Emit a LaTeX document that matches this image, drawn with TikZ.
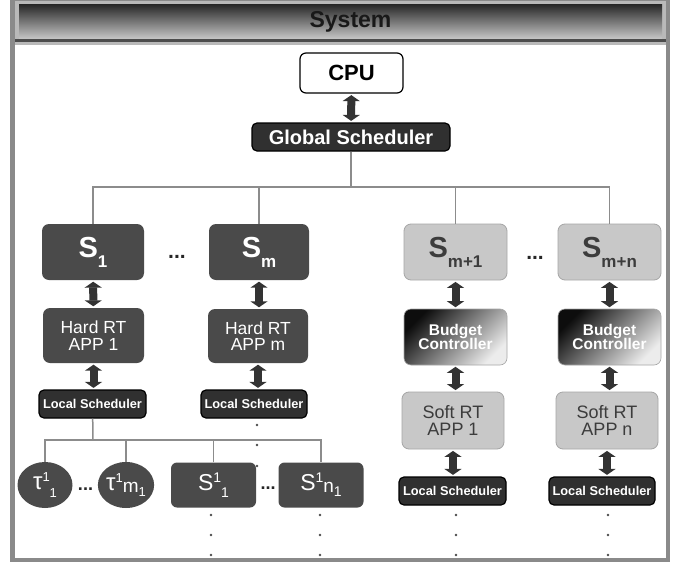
\documentclass[tikz,border=0pt]{standalone}
\usepackage{fontspec}
\setmainfont{Liberation Sans}
\usetikzlibrary{positioning}
\usetikzlibrary{arrows.meta}
\usetikzlibrary{shapes}

\definecolor{darkfill}{HTML}{4A4A4A}
\definecolor{schedfill}{HTML}{303030}
\definecolor{lightfill}{HTML}{C8C8C8}
\definecolor{lightdraw}{HTML}{A6A6A6}
\definecolor{lighttext}{HTML}{3C3C3C}
\definecolor{arrowgray}{HTML}{333333}
\definecolor{linkgray}{HTML}{8C8C8C}
\definecolor{framegray}{HTML}{8A8A8A}

\newcommand{\fs}[1]{\fontsize{#1}{#1}\selectfont}
\newcommand{\Sbig}[1]{{\fs{29}S}\raisebox{-10pt}{\fs{17}#1}}

\begin{document}
\begin{tikzpicture}[
    x=1pt, y=-1pt,
    font=\bfseries
]
\tikzset{
    cpunode/.style = {rectangle, rounded corners=6pt, draw=black, line width=1.2pt, fill=white, minimum width=103pt, minimum height=40pt, inner sep=0pt},
    schednode/.style = {rectangle, rounded corners=5pt, draw=black, line width=1.2pt, fill=schedfill, text=white, minimum height=28pt, inner sep=0pt},
    darknode/.style = {rectangle, rounded corners=7pt, fill=darkfill, text=white, align=center, inner sep=0pt, minimum width=102pt, minimum height=56pt},
    lightnode/.style = {rectangle, rounded corners=7pt, draw=lightdraw, line width=0.8pt, fill=lightfill, text=lighttext, align=center, inner sep=0pt, minimum width=103pt, minimum height=56pt},
    budgetnode/.style = {rectangle, rounded corners=7pt, draw=lightdraw, line width=0.6pt, top color=black!95, middle color=gray!75!black, bottom color=gray!15, shading angle=45, text=white, align=center, inner sep=0pt, minimum width=103pt, minimum height=56pt, font=\bfseries\fs{15.5}},
    tasknode/.style = {ellipse, fill=darkfill, text=white, inner sep=0pt, minimum width=55pt, minimum height=46pt, font=\mdseries},
    subnode/.style = {rectangle, rounded corners=6pt, fill=darkfill, text=white, inner sep=0pt, minimum width=85pt, minimum height=45pt, font=\mdseries},
    dotsnode/.style = {text=black!85, inner sep=0pt, anchor=base},
    dbl/.style = {{Triangle[width=17pt,length=6pt]}-{Triangle[width=17pt,length=6pt]}, line width=8pt, draw=arrowgray, shorten <=1.5pt, shorten >=1.5pt},
    link/.style = {draw=linkgray, line width=1.5pt}
}
\useasboundingbox (0,0) rectangle (681,565);

% frame and title bar
\fill[framegray] (10,0) rectangle (670,562);
\fill[white] (15,45) rectangle (666,558);
\fill[gray!55] (15,1) rectangle (666,45);
\shade[top color=black!85, bottom color=black!22] (19,4) rectangle (662,39);
\fill[black!70] (15,39) rectangle (666,42);
\node[text=black!90] at (350.5,22) (title) {\fs{23}System};

% top
\node[cpunode] at (351.5,73) (cpu) {\fs{22}CPU};
\node[schednode, minimum width=198pt] at (351,137) (gsched) {\fs{20}Global Scheduler};

% servers
\node[darknode] at (93,252) (s1) {\Sbig{1}};
\node[darknode, minimum width=100pt] at (259,252) (sm) {\Sbig{m}};
\node[lightnode] at (455.5,252) (smp1) {\Sbig{m+1}};
\node[lightnode] at (609.5,252) (smpn) {\Sbig{m+n}};
\node[dotsnode] at (177,258) (dots1) {\fs{21}...};
\node[dotsnode] at (535,259) (dots2) {\fs{21}...};

% applications
\node[darknode, font=\mdseries\fs{17.5}, minimum width=101pt, minimum height=55pt] at (93.5,335.5) (hard1) {Hard RT\\[-1pt]APP 1};
\node[darknode, font=\mdseries\fs{17.5}, minimum width=100pt, minimum height=54pt] at (258,336) (hardm) {Hard RT\\[-1pt]APP m};
\node[budgetnode] at (455.5,337) (bud1) {Budget\\[-1pt]Controller};
\node[budgetnode] at (609.5,337) (bud2) {Budget\\[-1pt]Controller};
\node[lightnode, font=\mdseries\fs{18}, minimum width=102pt, minimum height=57pt] at (453,420.5) (soft1) {Soft RT\\[-1pt]APP 1};
\node[lightnode, font=\mdseries\fs{18}, minimum width=102pt, minimum height=57pt] at (607,420.5) (softn) {Soft RT\\[-1pt]APP n};

% local schedulers
\node[schednode, minimum width=107pt] at (92.5,404) (loc1) {\fs{12.8}Local Scheduler};
\node[schednode, minimum width=106pt] at (254,404) (locm) {\fs{12.8}Local Scheduler};
\node[schednode, minimum width=107pt] at (452.5,491) (loc2) {\fs{12.8}Local Scheduler};
\node[schednode, minimum width=106pt] at (602,491) (loc3) {\fs{12.8}Local Scheduler};

% tasks and sub-servers
\node[tasknode] at (45,485) (tau1) {{\fs{24}τ}\raisebox{8pt}{\fs{13}1}\raisebox{-8pt}{\fs{13}1}};
\node[tasknode, minimum width=54pt] at (126,485) (taum) {{\fs{24}τ}\raisebox{8pt}{\fs{13}1}\raisebox{-2pt}{\fs{19}m\raisebox{-4pt}{\fs{13}1}}};
\node[subnode] at (213.5,485) (ss1) {{\fs{23}S}\raisebox{8pt}{\fs{14}1}\raisebox{-7pt}{\fs{14}1}};
\node[subnode] at (321,485) (ssn) {{\fs{23}S}\raisebox{8pt}{\fs{14}1}\raisebox{-2pt}{\fs{19}n\raisebox{-4pt}{\fs{14}1}}};
\node[dotsnode] at (85.5,490) (dots3) {\fs{18}...};
\node[dotsnode] at (268,489) (dots4) {\fs{18}...};

% tree links
\coordinate (bus) at (351,187);
\coordinate (bus2) at (93,440);
\draw[link] (gsched) -- (bus);
\draw[link] (s1.north) |- (bus) -| (smpn.north);
\draw[link] (sm.north) -- (sm.north |- bus);
\draw[link] (smp1.north) -- (smp1.north |- bus);
\draw[link] (loc1) -- (bus2);
\draw[link] (tau1.north) |- (bus2) -| (ssn.north);
\draw[link] (taum.north) -- (taum.north |- bus2);
\draw[link] (ss1.north) -- (ss1.north |- bus2);

% double arrows
\draw[dbl] (cpu) -- (gsched);
\draw[dbl] (s1) -- (hard1);
\draw[dbl] (sm) -- (sm.south |- hardm.north);
\draw[dbl] (hard1) -- (hard1.south |- loc1.north);
\draw[dbl] (hardm) -- (hardm.south |- locm.north);
\draw[dbl] (smp1) -- (bud1);
\draw[dbl] (smpn) -- (bud2);
\draw[dbl] (bud1) -- (bud1.south |- soft1.north);
\draw[dbl] (bud2) -- (bud2.south |- softn.north);
\draw[dbl] (soft1) -- (soft1.south |- loc2.north);
\draw[dbl] (softn) -- (softn.south |- loc3.north);

% continuation dots
\foreach \y in {425,445,466}
    \fill[black!70] (257,\y) circle (1.3pt);
\foreach \x in {211,320,456,608}
    \foreach \y in {515,535,555}
        \fill[black!70] (\x,\y) circle (1.3pt);
\end{tikzpicture}
\end{document}
